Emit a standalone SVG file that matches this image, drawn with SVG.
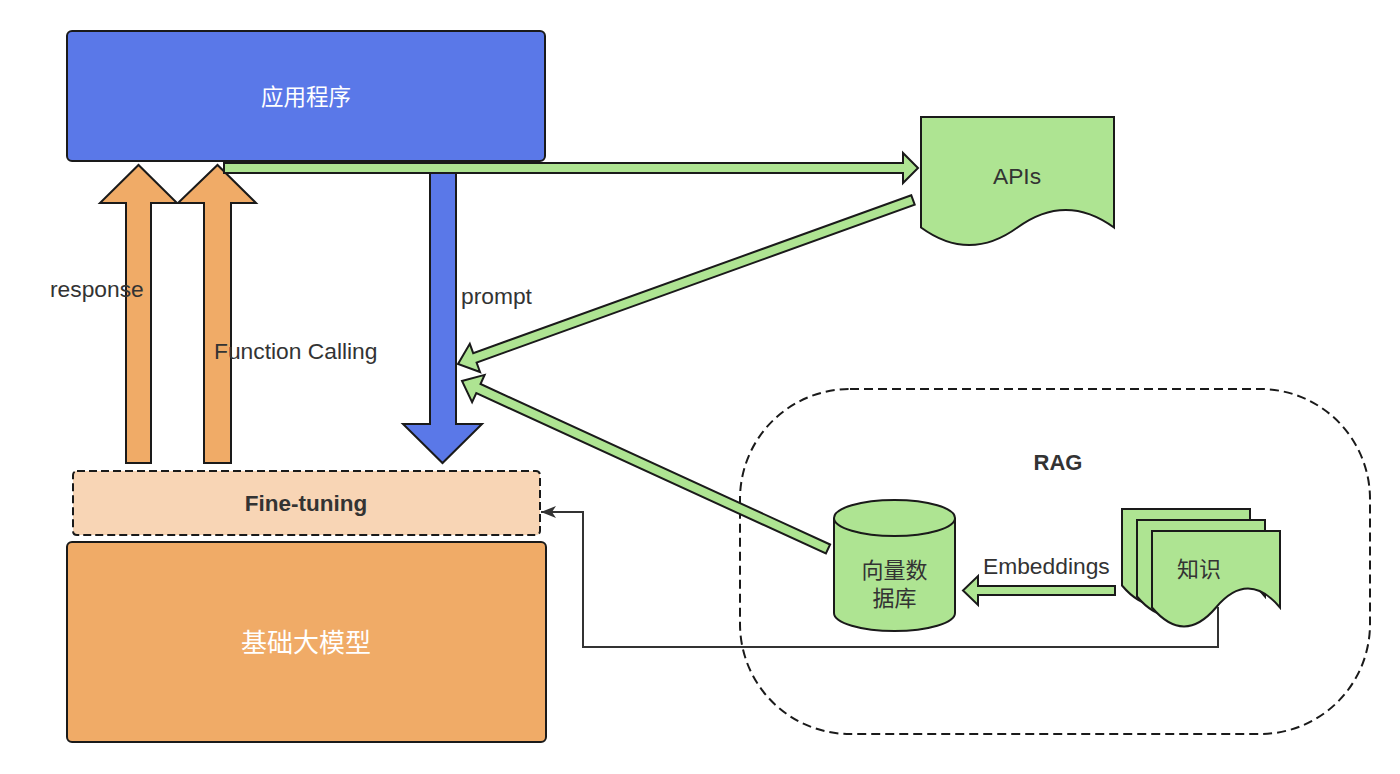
<svg xmlns="http://www.w3.org/2000/svg" width="1400" height="774" viewBox="0 0 1400 774">
<style>
text{font-family:"Liberation Sans","Noto Sans CJK SC",Arial,sans-serif;}
.lbl{font-size:22.8px;fill:#333333;}
.cjk{font-family:"Noto Sans CJK SC","Liberation Sans",sans-serif;font-size:22px;}
.wt{fill:#ffffff;}
.green{fill:#AEE492;stroke:#1a1a1a;stroke-width:2;stroke-linejoin:miter;}
.orange{fill:#F0AB67;stroke:#1a1a1a;stroke-width:2;}
.blue{fill:#5A78E8;stroke:#1a1a1a;stroke-width:2;}
.dash{fill:none;stroke:#1a1a1a;stroke-width:2;stroke-dasharray:9 5;}
.conn{fill:none;stroke:#333333;stroke-width:2;}
</style>
<defs>
<marker id="arr" viewBox="0 0 15 12" refX="15" refY="6" markerWidth="15" markerHeight="12" markerUnits="userSpaceOnUse" orient="auto">
<path d="M0,0 L15,6 L0,12 L4,6 Z" fill="#333333"/>
</marker>
</defs>
<rect width="1400" height="774" fill="#ffffff"/>

<g id="rag">
<rect x="740" y="389" width="630" height="345" rx="110" ry="110" class="dash"/>
<text x="1058" y="470" text-anchor="middle" style="font-size:22px;font-weight:bold;fill:#333333">RAG</text>
</g>

<g id="app">
<rect x="67" y="31" width="478" height="130" rx="5" class="blue"/>
<text x="306" y="105" text-anchor="middle" class="cjk wt" style="font-size:22.5px">应用程序</text>
</g>

<g id="finetuning">
<rect x="73" y="471" width="467" height="64" rx="4" fill="#F8D5B5" stroke="#1a1a1a" stroke-width="2" stroke-dasharray="8 4"/>
<text x="306" y="511" text-anchor="middle" style="font-size:22.5px;font-weight:bold;fill:#333333">Fine-tuning</text>
</g>

<g id="model">
<rect x="67" y="542" width="479" height="200" rx="5" class="orange"/>
<text x="306" y="652" text-anchor="middle" class="cjk wt" style="font-size:26px">基础大模型</text>
</g>

<g id="apis">
<path d="M921,117 H1114 V227.5 Q1065.75,192.4 1017.5,227.5 Q969.25,262.6 921,227.5 Z" class="green"/>
<text x="1017" y="184" text-anchor="middle" class="lbl">APIs</text>
</g>

<g id="vectordb">
<path d="M834,518 A60.5,18 0 0 1 955,518 V613 A60.5,18 0 0 1 834,613 Z" class="green"/>
<path d="M834,518 A60.5,18 0 0 0 955,518" class="green" fill="none"/>
<text text-anchor="middle" class="cjk" fill="#333333"><tspan x="894.5" y="577.5">向量数</tspan><tspan x="894.5" y="605.5">据库</tspan></text>
</g>

<g id="knowledge">
<path d="M1122,509 H1250 V585.5 Q1218,547.7 1186,585.5 Q1154,623.3 1122,585.5 Z" class="green"/>
<path d="M1137,520 H1265 V596.5 Q1233,558.7 1201,596.5 Q1169,634.3 1137,596.5 Z" class="green"/>
<path d="M1152,531 H1280 V607.5 Q1248,569.7 1216,607.5 Q1184,645.3 1152,607.5 Z" class="green"/>
<text x="1199" y="576.5" text-anchor="middle" class="cjk" fill="#333333">知识</text>
</g>

<g id="connectors">
<polygon points="430,161 456,161 456,424 482,424 442.5,463 403,424 430,424" class="blue"/>
<polygon points="126,463 126,203 100,203 138.5,165 177,203 151,203 151,463" class="orange"/>
<polygon points="204,463 204,203 178,203 217.5,165 256,203 231,203 231,463" class="orange"/>
<polygon points="224,163 903,163 903,153 918,168 903,183 903,173 224,173" class="green"/>
<polygon points="911.3,195.3 473.2,353.2 469.8,343.8 458,364 480,372 476.6,362.6 914.7,204.7" class="green"/>
<polygon points="830.1,544.5 480.5,384 484.6,374.9 462,381 472.1,402.1 476.3,393.1 825.9,553.5" class="green"/>
<polygon points="1115,586 978,586 978,576 963,590.5 978,605 978,595 1115,595" class="green"/>
<path d="M1218,607 V647 H583 V512 H541" class="conn" marker-end="url(#arr)"/>
<text x="50" y="297" class="lbl">response</text>
<text x="214" y="359" class="lbl">Function Calling</text>
<text x="461" y="304" class="lbl">prompt</text>
<text x="983" y="574" class="lbl">Embeddings</text>
</g>
</svg>
